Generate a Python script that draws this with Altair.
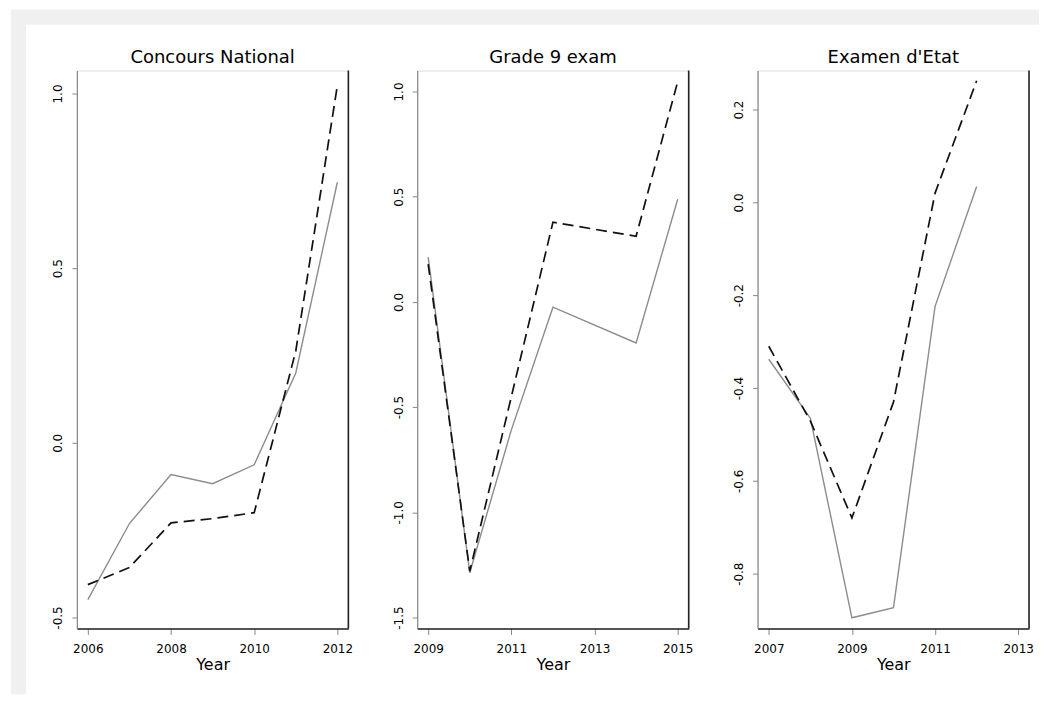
import altair as alt
import pandas as pd

FONT = "DejaVu Sans"

# ---- data ----
titles = ["Concours National", "Grade 9 exam", "Examen d'Etat"]

years_cn = [2006, 2007, 2008, 2009, 2010, 2011, 2012]
solid_cn = [-0.449, -0.231, -0.091, -0.117, -0.063, 0.200, 0.746]
dashed_cn = [-0.406, -0.357, -0.229, -0.217, -0.200, 0.263, 1.023]

years_g9 = [2009, 2010, 2011, 2012, 2014, 2015]
solid_g9 = [0.213, -1.287, -0.608, -0.025, -0.195, 0.488]
dashed_g9 = [0.180, -1.280, -0.450, 0.379, 0.312, 1.047]

years_ee = [2007, 2008, 2009, 2010, 2011, 2012]
solid_ee = [-0.338, -0.465, -0.895, -0.873, -0.224, 0.034]
dashed_ee = [-0.310, -0.471, -0.680, -0.430, 0.020, 0.262]

xticks_cn = [2006, 2008, 2010, 2012]
xticks_g9 = [2009, 2011, 2013, 2015]
xticks_ee = [2007, 2009, 2011, 2013]

yticks_cn = [-0.5, 0.0, 0.5, 1.0]
yticks_g9 = [-1.5, -1.0, -0.5, 0.0, 0.5, 1.0]
yticks_ee = [-0.8, -0.6, -0.4, -0.2, 0.0, 0.2]

xdom_cn = [2005.736, 2012.264]
xdom_g9 = [2008.736, 2015.264]
xdom_ee = [2006.73, 2013.26]

ydom_cn = [-0.5314, 1.0657]
ydom_g9 = [-1.552, 1.0996]
ydom_ee = [-0.918, 0.284]

W, H = 272, 559
GREY_BAND = "#f0f0f0"


def panel(title, years, solid, dashed, xdom, xticks, ydom, yticks, with_band=False):
    n = len(years)
    df = pd.DataFrame({
        "year": years + years,
        "value": solid + dashed,
        "series": ["solid"] * n + ["dashed"] * n,
    })
    x = alt.X(
        "year:Q",
        scale=alt.Scale(domain=xdom, nice=False, zero=False),
        axis=alt.Axis(
            values=xticks, format="d", title="Year", grid=False,
            labelFont=FONT, labelFontSize=12, labelColor="#000",
            labelPadding=9, tickSize=6, tickColor="#888",
            domainColor="#222", domainWidth=1.6,
            titleFont=FONT, titleFontSize=16, titleFontWeight="normal",
            titleColor="#000", titlePadding=2, labelFlush=False,
        ),
    )
    y = alt.Y(
        "value:Q",
        scale=alt.Scale(domain=ydom, nice=False, zero=False),
        axis=alt.Axis(
            values=yticks, title=None, grid=False,
            labelExpr="replace(format(datum.value, '.1f'), '\u2212', '-')",
            labelAngle=270, labelAlign="center", labelBaseline="bottom",
            labelFont=FONT, labelFontSize=12, labelColor="#000",
            labelPadding=7, tickSize=5, tickColor="#888",
            domainColor="#888", domainWidth=1.2, labelFlush=False,
        ),
    )
    base = alt.Chart(df)
    solid_layer = base.transform_filter(alt.datum.series == "solid").mark_line(
        color="#8c8c8c", strokeWidth=1.4
    ).encode(x=x, y=y)
    dashed_layer = base.transform_filter(alt.datum.series == "dashed").mark_line(
        color="#111111", strokeWidth=1.7, strokeDash=[11, 6]
    ).encode(x=x, y=y)
    one = alt.Chart(pd.DataFrame({"k": [0]}))
    right_edge = one.mark_rule(color="#222", strokeWidth=1.6).encode(
        x=alt.value(W), y=alt.value(0), y2=alt.value(H)
    )
    title_text = one.mark_text(
        font=FONT, fontSize=18, color="#000", align="center", baseline="alphabetic"
    ).encode(x=alt.value(W / 2), y=alt.value(-8), text=alt.value(title))
    layers = []
    if with_band:
        top_band = one.mark_rect(color=GREY_BAND).encode(
            x=alt.value(-66), x2=alt.value(964), y=alt.value(-61), y2=alt.value(-46)
        )
        left_band = one.mark_rect(color=GREY_BAND).encode(
            x=alt.value(-66), x2=alt.value(-51), y=alt.value(-61), y2=alt.value(625)
        )
        layers += [top_band, left_band]
    layers += [solid_layer, dashed_layer, right_edge, title_text]
    return alt.layer(*layers).properties(width=W, height=H)


p1 = panel(titles[0], years_cn, solid_cn, dashed_cn, xdom_cn, xticks_cn, ydom_cn, yticks_cn, with_band=True)
p2 = panel(titles[1], years_g9, solid_g9, dashed_g9, xdom_g9, xticks_g9, ydom_g9, yticks_g9)
p3 = panel(titles[2], years_ee, solid_ee, dashed_ee, xdom_ee, xticks_ee, ydom_ee, yticks_ee)

chart = alt.hconcat(p1, p2, p3, spacing=69, bounds="flush").properties(
    padding={"left": 2, "top": 0, "right": 0, "bottom": 0},
).configure_view(
    stroke="#888", strokeWidth=1.2
).configure(background="white")

chart.save("out.html", embed_options={"renderer": "svg", "actions": False})
